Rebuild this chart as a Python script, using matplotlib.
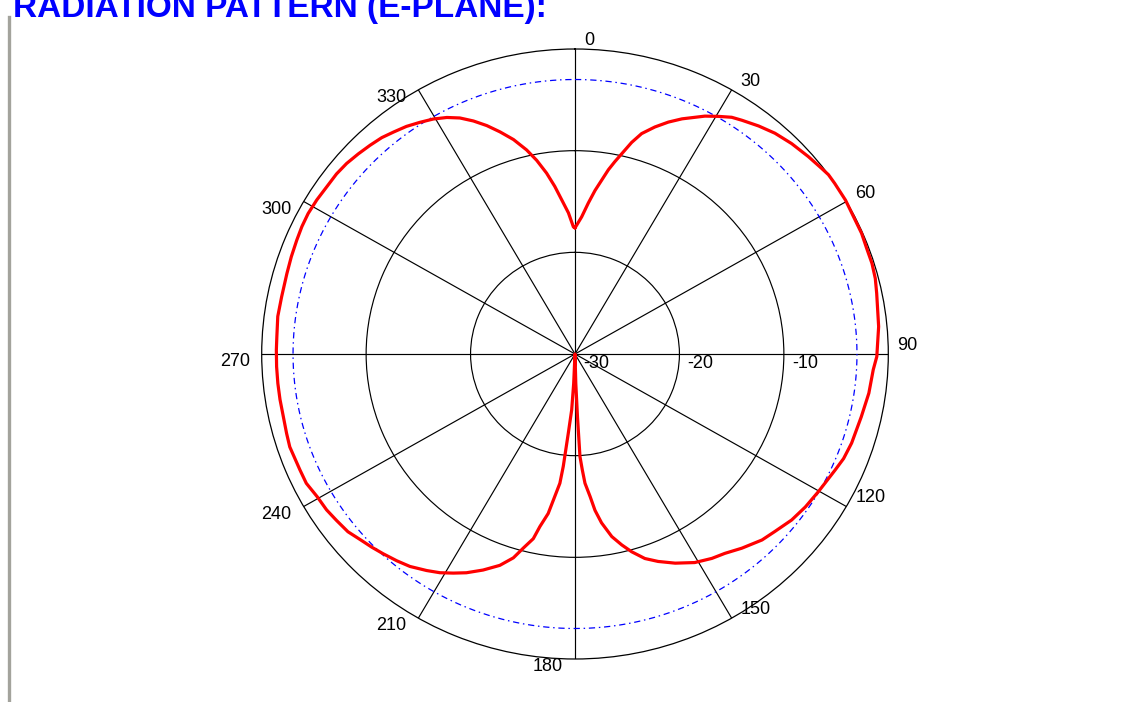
import numpy as np
import matplotlib
matplotlib.use('Agg')
import matplotlib.pyplot as plt
from matplotlib.lines import Line2D

# ---- data ----
angles_deg = [0, 2.7, 4.9, 6.8, 8.5, 10.0, 11.4, 12.8, 14.6, 16.4, 18.9, 21.4, 23.9, 25.7,
              28.0, 30.4, 32.8, 34.8, 38.1, 41.4, 45.05, 49.0, 52.3, 54.0, 56.0, 59.7,
              63.1, 66.6, 69.6, 72.6, 75.5, 78.3, 81.5, 84.7, 90.5, 93.1, 97.8, 102.7,
              108.3, 111.8, 114.6, 120.2, 124.3, 128.2, 132.4, 135.6, 140.1, 143.8,
              146.9, 150.8, 155.0, 158.7, 161.6, 164.4, 166.6, 168.9, 171.3, 172.9,
              174.1, 175.7, 176.5, 177.3, 177.8, 178.5, 180.0, 182.5, 183.3, 184.7,
              185.8, 186.5, 188.2, 189.3, 191.2, 192.4, 194.5, 196.4, 199.1, 202.5,
              205.8, 208.4, 211.0, 213.7, 217.1, 220.0, 223.1, 225.7, 228.4, 231.2,
              234.4, 237.2, 240.4, 243.7, 246.6, 251.5, 254.2, 257.5, 261.0, 264.2,
              267.5, 270.8, 273.4, 277.4, 281.3, 286.0, 289.4, 292.8, 295.6, 298.4,
              301.5, 304.7, 307.8, 310.6, 313.5, 316.3, 319.0, 321.5, 324.2, 326.9,
              329.6, 332.2, 334.6, 337.0, 339.4, 341.8, 344.4, 347.0, 349.1, 351.3,
              353.3, 355.7, 357.4, 359.3, 360.0]
gain_db = [-17.6, -16.5, -15.1, -13.8, -12.7, -11.6, -10.7, -9.8, -8.5, -7.4, -6.4, -5.5, -4.7, -4.2,
           -3.5, -2.9, -2.3, -2.0, -1.5, -1.05, -0.7, -0.4, -0.15, 0.0, 0.0, 0.0,
           -0.1, -0.1, -0.2, -0.2, -0.3, -0.5, -0.7, -0.8, -1.1, -1.4, -1.6, -1.9,
           -2.1, -2.3, -2.6, -3.05, -3.3, -3.6, -4.1, -4.4, -5.1, -5.7,
           -6.0, -6.5, -7.3, -8.1, -8.8, -9.8, -10.7, -11.7, -13.2, -14.5,
           -15.9, -17.25, -18.6, -19.9, -23.8, -27.1, -30.0, -27.1, -24.5, -22.2,
           -18.9, -17.2, -15.5, -14.1, -12.7, -11.4, -10.3, -9.1, -8.0, -7.0,
           -6.1, -5.5, -4.9, -4.4, -3.8, -3.45, -3.1, -2.8, -2.5, -2.1,
           -1.9, -1.7, -1.6, -1.3, -1.3, -1.2, -1.3, -1.4, -1.4, -1.4,
           -1.4, -1.4, -1.4, -1.3, -1.35, -1.3, -1.2, -1.1, -1.0, -0.95,
           -1.0, -1.1, -1.1, -1.2, -1.4, -1.6, -1.8, -2.1, -2.4, -2.8,
           -3.2, -3.7, -4.3, -5.1, -6.0, -7.0, -8.1, -9.4, -10.6, -12.0,
           -13.4, -15.1, -16.1, -17.5, -17.6]
ring_db = [-30, -20, -10]
spoke_deg = list(range(0, 360, 30))
angle_labels = [str(a) for a in spoke_deg]
ref_level_db = -3
db_min, db_max = -30, 0
title_text = "RADIATION PATTERN (E-PLANE):"

W, H = 1135, 702
fig = plt.figure(figsize=(W / 100, H / 100), dpi=100)
fig.patch.set_facecolor('white')

cx, cy, rx, ry = 575, 354, 313.3, 305
ax = fig.add_axes([(cx - rx) / W, (H - cy - ry) / H, 2 * rx / W, 2 * ry / H],
                  projection='polar')
ax.set_aspect('auto')
ax.set_theta_zero_location('N')
ax.set_theta_direction(-1)
ax.set_ylim(0, db_max - db_min)
ax.set_thetagrids(spoke_deg, labels=[''] * len(spoke_deg))
ax.set_rgrids([d - db_min for d in ring_db if d > db_min], labels=[''] * 2)
ax.grid(True, color='black', lw=0.85)
ax.spines['polar'].set_color('black')
ax.spines['polar'].set_linewidth(0.9)
ax.tick_params(length=0)

# -3 dB reference circle
th = np.linspace(0, 2 * np.pi, 721)
ax.plot(th, np.full_like(th, ref_level_db - db_min), color='blue', lw=0.9,
        linestyle=(0, (5, 3, 1.2, 3)))

# radiation pattern
ax.plot(np.deg2rad(angles_deg), np.array(gain_db) - db_min, color='#ff0000', lw=2.3,
        clip_on=False, zorder=5, solid_joinstyle='round', solid_capstyle='round')

font = dict(family='Liberation Sans', fontsize=13, color='black')
for a, lab in zip(spoke_deg, angle_labels):
    if a < 180:
        ax.annotate(lab, xy=(np.deg2rad(a), db_max - db_min), xytext=(9, 4),
                    textcoords='offset pixels', ha='left', va='baseline',
                    annotation_clip=False, **font)
    else:
        ax.annotate(lab, xy=(np.deg2rad(a), db_max - db_min), xytext=(-12, 1),
                    textcoords='offset pixels', ha='right', va='top',
                    annotation_clip=False, **font)

for d in ring_db:
    ax.annotate(str(d), xy=(np.pi / 2, d - db_min), xytext=(8, -1),
                textcoords='offset pixels', ha='left', va='top', zorder=6, **font)

fig.text(13 / W, 1 - 17.5 / H, title_text, ha='left', va='baseline',
         fontsize=24, fontweight='bold', color='#0000ff', family='Liberation Sans')

fig.add_artist(Line2D([8.5 / W, 8.5 / W], [0, 1 - 17 / H], transform=fig.transFigure,
                      color='#a3a39c', lw=2.4))

fig.savefig('out.png', dpi=100, facecolor='white')
